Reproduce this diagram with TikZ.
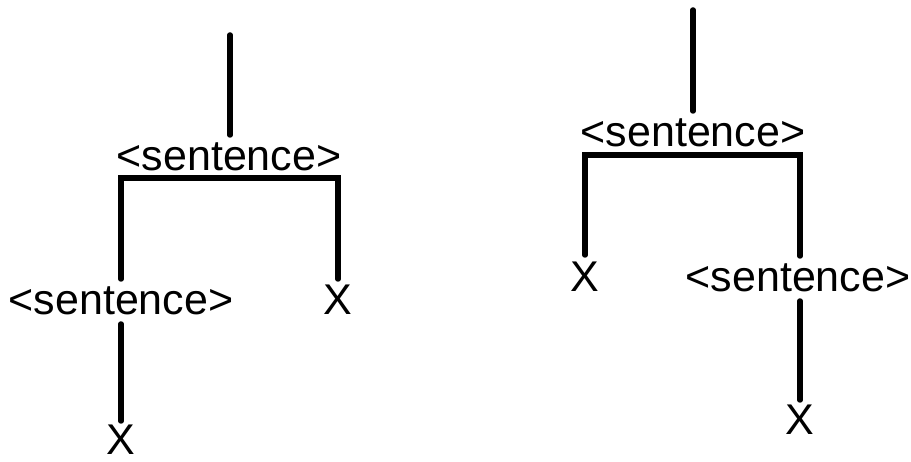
\documentclass[tikz,border=0pt]{standalone}
\usepackage{fontspec}
\setmainfont{Liberation Sans}
\begin{document}
\begin{tikzpicture}[x=1pt,y=-1pt,
  lab/.style={anchor=base,inner sep=0pt,font=\fontsize{43}{50}\selectfont},
  edge/.style={line width=5.5pt,line cap=round,line join=miter}]
\useasboundingbox (0,0) rectangle (911,462);
% left tree
\coordinate (t1) at (230,35);
\node[lab] (s1) at (229,171) {<sentence>};
\node[lab] (s2) at (121,315) {<sentence>};
\node[lab] (x1) at (338,315) {X};
\node[lab] (x2) at (121,454) {X};
\draw[edge] (t1) -- ([yshift=36pt]s1.base -| t1);
\draw[edge] ([yshift=36pt]s2.base) |- ([yshift=-7pt]s1.base) -| ([yshift=36pt]x1.base);
\draw[edge] ([yshift=-9pt]s2.base) -- ([yshift=33pt]x2.base);
% right tree
\coordinate (t3) at (693,10);
\node[lab] (s3) at (693,147) {<sentence>};
\node[lab] (x3) at (585,292) {X};
\node[lab] (s4) at (798,292) {<sentence>};
\node[lab] (x4) at (800,435) {X};
\draw[edge] (t3) -- ([yshift=36pt]s3.base -| t3);
\draw[edge] ([yshift=37pt]x3.base) |- ([yshift=-8pt]s3.base) -| ([yshift=36pt]s4.base -| x4);
\draw[edge] ([yshift=-9pt]s4.base -| x4) -- ([yshift=35pt]x4.base);
\end{tikzpicture}
\end{document}
